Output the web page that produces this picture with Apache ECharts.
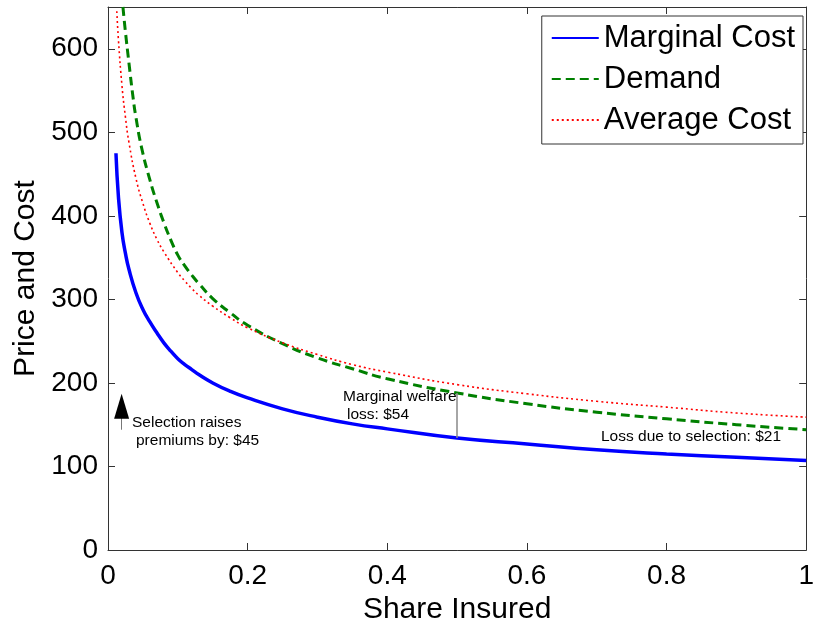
<!DOCTYPE html>
<html>
<head>
<meta charset="utf-8">
<script src="https://cdn.jsdelivr.net/npm/echarts@6/dist/echarts.min.js"></script>
<style>
  html, body { margin: 0; padding: 0; background: #fff; }
  #chart { width: 817px; height: 633px; }
</style>
</head>
<body>
<div id="chart"></div>
<script>
// values
const shareMC = [0.0114, 0.015, 0.02, 0.025, 0.03, 0.04, 0.05, 0.06, 0.07, 0.08, 0.09, 0.1, 0.11, 0.12, 0.13, 0.15, 0.175, 0.2, 0.25, 0.3, 0.35, 0.4, 0.5, 0.6, 0.7, 0.8, 0.9, 1.0];
const marginalCost = [475, 422, 380, 355, 336, 308, 288, 273, 260, 248, 238, 229, 222, 216, 210, 200, 190, 182, 169, 159, 151, 145, 134, 127, 120, 115, 111, 107];

const shareDemand = [0.0214, 0.025, 0.03, 0.036, 0.04, 0.048, 0.06, 0.07, 0.08, 0.09, 0.1, 0.11, 0.12, 0.13, 0.15, 0.175, 0.2, 0.25, 0.3, 0.35, 0.4, 0.5, 0.6, 0.7, 0.8, 0.9, 1.0];
const demand = [650, 620, 583, 541, 518, 482, 443, 416, 392, 371, 353, 340, 329, 319, 301, 284, 269, 247, 230, 217, 205, 188, 175, 165, 157, 150, 144];

const shareAC = [0.0126, 0.015, 0.02, 0.025, 0.03, 0.04, 0.05, 0.06, 0.07, 0.08, 0.1, 0.11, 0.12, 0.13, 0.15, 0.175, 0.2, 0.25, 0.3, 0.35, 0.4, 0.5, 0.6, 0.7, 0.8, 0.9, 1.0];
const averageCost = [645, 610, 556, 518, 488, 445, 415, 391, 372, 357, 332, 322, 313, 305, 292, 278, 266, 248, 234, 222, 213, 198, 187, 178, 171, 164, 159];

const xTicks = [0, 0.2, 0.4, 0.6, 0.8, 1];
const yTicks = [0, 100, 200, 300, 400, 500, 600];

// annotation anchors (data units)
const arrowX = 0.0195, arrowFrom = 144, arrowTip = 172;
const welfareX = 0.5, welfareLow = 134, welfareHigh = 188;

function pairs(xs, ys) {
  return xs.map(function (x, i) { return [x, ys[i]]; });
}

const FONT = '"Liberation Sans", Arial, sans-serif';
const chart = echarts.init(document.getElementById('chart'));

const axisLineStyle = { color: '#333', width: 1 };
function frameAxis(extra) {
  return Object.assign({
    axisLine: { show: true, onZero: false, lineStyle: axisLineStyle },
    axisTick: { show: true, inside: true, length: 7, lineStyle: { color: '#333' } },
    splitLine: { show: false }
  }, extra);
}

const option = {
  backgroundColor: '#fff',
  animation: false,
  grid: { left: 108, right: 7, top: 7, bottom: 83 },
  legend: {
    orient: 'vertical',
    right: 14,
    top: 16,
    padding: [6, 8, 8, 9],
    itemGap: 9,
    itemWidth: 47,
    itemHeight: 20,
    borderColor: '#333',
    borderWidth: 1,
    borderRadius: 0,
    backgroundColor: '#fff',
    itemStyle: { opacity: 0 },
    textStyle: { fontSize: 31, fontFamily: FONT, color: '#000', lineHeight: 32 },
    data: ['Marginal Cost', 'Demand', 'Average Cost']
  },
  xAxis: [
    frameAxis({
      type: 'value', min: 0, max: 1, interval: 0.2, position: 'bottom',
      name: 'Share Insured', nameLocation: 'middle', nameGap: 43,
      nameTextStyle: { fontSize: 30, fontFamily: FONT, color: '#000' },
      axisLabel: {
        fontSize: 28, fontFamily: FONT, color: '#000', margin: 12,
        formatter: function (v) { return xTicks.indexOf(v) >= 0 ? String(v) : ''; }
      }
    }),
    frameAxis({ type: 'value', min: 0, max: 1, interval: 0.2, position: 'top', axisLabel: { show: false } })
  ],
  yAxis: [
    frameAxis({
      type: 'value', min: 0, max: 650, interval: 100, position: 'left',
      name: 'Price and Cost', nameLocation: 'middle', nameGap: 65,
      nameTextStyle: { fontSize: 30, fontFamily: FONT, color: '#000' },
      axisLabel: {
        fontSize: 28, fontFamily: FONT, color: '#000', margin: 10, showMaxLabel: false,
        formatter: function (v) { return yTicks.indexOf(v) >= 0 ? String(v) : ''; }
      }
    }),
    frameAxis({ type: 'value', min: 0, max: 650, interval: 100, position: 'right', axisLabel: { show: false } })
  ],
  series: [
    {
      name: 'Marginal Cost',
      type: 'line',
      smooth: true,
      symbol: 'none',
      data: pairs(shareMC, marginalCost),
      lineStyle: { color: '#0000ff', width: 3.5 },
      itemStyle: { color: '#0000ff' },
      markLine: {
        silent: true,
        symbol: 'none',
        label: { show: false },
        data: [
          [{ coord: [arrowX, arrowFrom], lineStyle: { color: '#777', width: 1, type: 'solid' } },
           { coord: [arrowX, arrowTip - 8] }],
          [{ coord: [welfareX, welfareLow], lineStyle: { color: '#888', width: 1.5, type: 'solid' } },
           { coord: [welfareX, welfareHigh] }]
        ]
      },
      markPoint: {
        silent: true,
        label: { show: false },
        data: [{
          coord: [arrowX, arrowTip], symbol: 'triangle', symbolSize: [15, 25],
          itemStyle: { color: '#000' }
        }]
      }
    },
    {
      name: 'Demand',
      type: 'line',
      smooth: true,
      symbol: 'none',
      data: pairs(shareDemand, demand),
      lineStyle: { color: '#008000', width: 3, type: [9, 5] },
      itemStyle: { color: '#008000' }
    },
    {
      name: 'Average Cost',
      type: 'line',
      smooth: true,
      symbol: 'none',
      data: pairs(shareAC, averageCost),
      lineStyle: { color: '#ff0000', width: 1.6, type: [2, 3] },
      itemStyle: { color: '#ff0000' }
    }
  ],
  graphic: [
    { type: 'text', left: 132, top: 415, style: { text: 'Selection raises', font: '15.5px ' + FONT, fill: '#000' } },
    { type: 'text', left: 136, top: 433, style: { text: 'premiums by: $45', font: '15.5px ' + FONT, fill: '#000' } },
    { type: 'text', left: 343, top: 389, style: { text: 'Marginal welfare', font: '15.5px ' + FONT, fill: '#000' } },
    { type: 'text', left: 347, top: 407, style: { text: 'loss: $54', font: '15.5px ' + FONT, fill: '#000' } },
    { type: 'text', left: 601, top: 429, style: { text: 'Loss due to selection: $21', font: '15.5px ' + FONT, fill: '#000' } }
  ]
};

chart.setOption(option);
</script>
</body>
</html>
